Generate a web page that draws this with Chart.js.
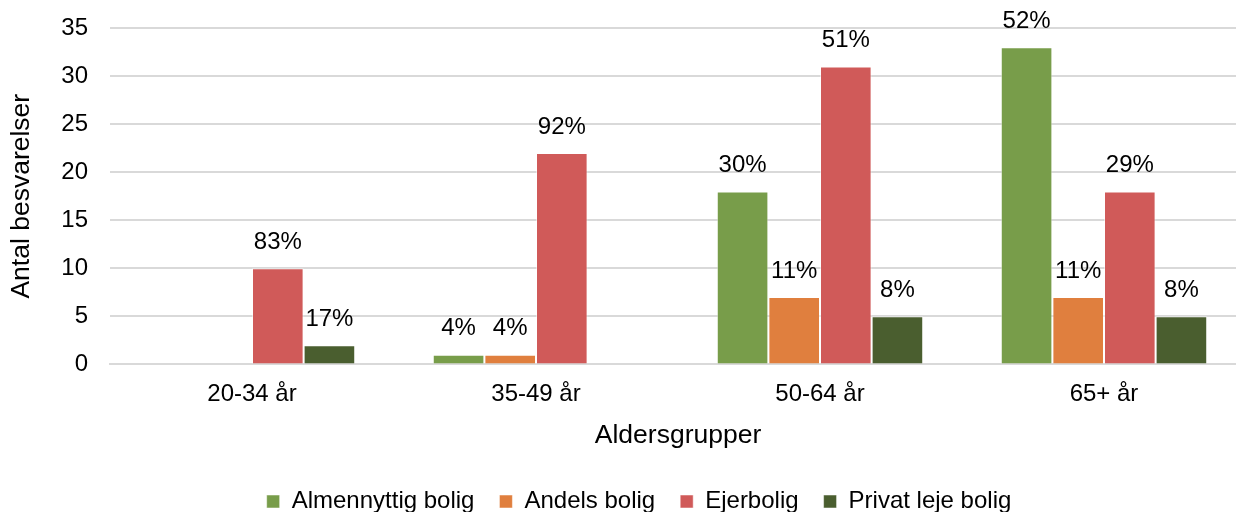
<!DOCTYPE html>
<html>
<head>
<meta charset="utf-8">
<script src="https://cdn.jsdelivr.net/npm/chart.js@4/dist/chart.umd.min.js"></script>
<style>
  html, body { margin: 0; padding: 0; background: #fff; overflow: hidden; }
  #wrap { width: 1268px; height: 512px; }
</style>
</head>
<body>
<div id="wrap"><canvas id="c" width="1268" height="512"></canvas></div>
<script>
// Age groups and answers per housing type
const categories = ['20-34 år', '35-49 år', '50-64 år', '65+ år'];
const almennyttig = [0, 1, 18, 33];
const andels = [0, 1, 7, 7];
const ejerbolig = [10, 22, 31, 18];
const privatLeje = [2, 0, 5, 5];
const yTicks = [0, 5, 10, 15, 20, 25, 30, 35];

const seriesNames = ['Almennyttig bolig', 'Andels bolig', 'Ejerbolig', 'Privat leje bolig'];
const seriesValues = [almennyttig, andels, ejerbolig, privatLeje];
const seriesColors = ['#789D4A', '#E07F3E', '#D05A59', '#4A5E2F'];

const FONT = "'Liberation Sans', Arial, sans-serif";

// Share of each bar within its age group, printed above the bar
const groupTotals = categories.map((_, i) => seriesValues.reduce((s, arr) => s + arr[i], 0));

const shareLabels = {
  id: 'shareLabels',
  afterDatasetsDraw(chart) {
    const ctx = chart.ctx;
    ctx.save();
    ctx.font = '24px ' + FONT;
    ctx.fillStyle = '#000';
    ctx.textAlign = 'center';
    ctx.textBaseline = 'middle';
    chart.data.datasets.forEach((ds, di) => {
      const meta = chart.getDatasetMeta(di);
      meta.data.forEach((bar, i) => {
        const v = ds.data[i];
        if (!v) return;
        const pct = Math.round(v / groupTotals[i] * 100) + '%';
        ctx.fillText(pct, bar.x, bar.y - 26);
      });
    });
    ctx.restore();
  }
};

// Nudge the legend so it sits centred on the full figure width
const legendShift = {
  id: 'legendShift',
  afterLayout(chart) {
    if (chart.legend) {
      chart.legend.left += 16;
      chart.legend.right += 16;
    }
  }
};

new Chart(document.getElementById('c'), {
  type: 'bar',
  data: {
    labels: categories,
    datasets: seriesNames.map((name, k) => ({
      label: name,
      data: seriesValues[k],
      backgroundColor: seriesColors[k],
      borderColor: 'rgba(255,255,255,0.5)',
      borderWidth: 1,
      categoryPercentage: 0.727,
      barPercentage: 1.0
    }))
  },
  options: {
    responsive: false,
    animation: false,
    layout: { padding: { left: 0, right: 22, top: 28, bottom: -11.5 } },
    plugins: {
      legend: {
        position: 'bottom',
        labels: {
          font: { family: FONT, size: 24 },
          color: '#000',
          boxWidth: 13,
          boxHeight: 13,
          padding: 25
        }
      },
      tooltip: { enabled: false }
    },
    scales: {
      x: {
        grid: { display: false, drawTicks: false },
        border: { display: true, color: '#d9d9d9', width: 2 },
        ticks: { font: { family: FONT, size: 24 }, color: '#000', padding: 16 },
        title: {
          display: true,
          text: 'Aldersgrupper',
          font: { family: FONT, size: 26.5 },
          color: '#000',
          padding: { top: -5, bottom: 12.5 }
        }
      },
      y: {
        min: 0,
        max: 35,
        afterFit(scale) { scale.width = 110; },
        afterBuildTicks(scale) { scale.ticks = yTicks.map(v => ({ value: v })); },
        grid: { color: '#d9d9d9', lineWidth: 2, drawTicks: false },
        border: { display: false },
        ticks: { font: { family: FONT, size: 24, lineHeight: 0.5 }, color: '#000', padding: 22 },
        title: {
          display: true,
          text: 'Antal besvarelser',
          font: { family: FONT, size: 26.5 },
          color: '#000',
          padding: { top: 6, bottom: 0 }
        }
      }
    }
  },
  plugins: [shareLabels, legendShift]
});
</script>
</body>
</html>
